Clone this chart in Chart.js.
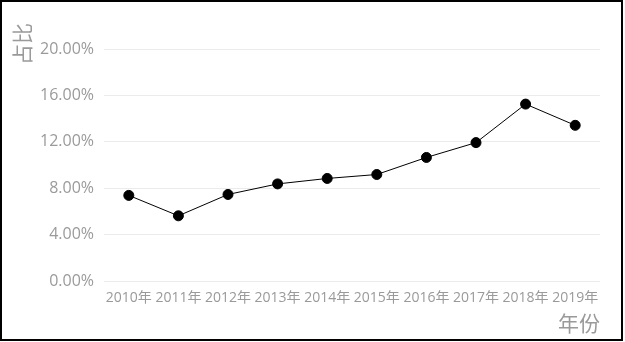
<!DOCTYPE html>
<html>
<head>
<meta charset="utf-8">
<script src="https://cdn.jsdelivr.net/npm/chart.js@4.4.1/dist/chart.umd.min.js"></script>
<style>
  body { margin: 0; background: #fff; }
  .box { position: absolute; left: 0; top: 0; width: 623px; height: 341px; box-sizing: border-box; border: 2px solid #000; background: #fff; }
  #my_chart { display: block; }
</style>
</head>
<body>
<div class="box"><canvas id="my_chart" width="619" height="337"></canvas></div>
<script>
// data
const years = ['2010年', '2011年', '2012年', '2013年', '2014年', '2015年', '2016年', '2017年', '2018年', '2019年'];
const shares = [7.38, 5.62, 7.46, 8.37, 8.84, 9.18, 10.65, 11.93, 15.25, 13.42];
const yTicks = [0, 4, 8, 12, 16, 20];
const yTitle = '占比';
const xTitle = '年份';

const gray = '#9a9a9a';
const fontFam = '"Open Sans", "Noto Sans CJK SC", sans-serif';
const cjkFam = '"Noto Sans CJK SC", sans-serif';

// y axis title sits above the plot top, so draw it ourselves
const yTitlePlugin = {
  id: 'yTitlePlugin',
  afterDraw(chart) {
    const c = chart.ctx;
    const area = chart.chartArea;
    c.save();
    c.translate(chart.scales.y.left + 20, area.top - 5);
    c.rotate(-Math.PI / 2);
    c.fillStyle = gray;
    c.font = '21px ' + cjkFam;
    c.textAlign = 'center';
    c.textBaseline = 'middle';
    c.fillText(yTitle, 0, 0);
    c.restore();
  }
};

var ctx = document.getElementById('my_chart').getContext('2d');
var lineChart = new Chart(ctx, {
  type: 'line',
  data: {
    labels: years,
    datasets: [{
      label: yTitle,
      data: shares,
      borderColor: '#000',
      borderWidth: 1,
      backgroundColor: '#000',
      pointBackgroundColor: '#000',
      pointBorderColor: '#000',
      pointRadius: 5,
      tension: 0
    }]
  },
  options: {
    responsive: false,
    animation: false,
    layout: { padding: { top: 47, right: 21, left: 0, bottom: 0 } },
    plugins: { legend: { display: false }, tooltip: { enabled: false } },
    scales: {
      x: {
        offset: true,
        grid: { display: false },
        border: { display: false },
        ticks: { color: gray, font: { family: fontFam, size: 14 }, padding: 1, maxRotation: 0, autoSkip: false },
        title: { display: true, text: xTitle, align: 'end', color: gray, font: { family: cjkFam, size: 21 }, padding: { top: 0, bottom: 3 } },
        afterFit: s => { s.height = 58; }
      },
      y: {
        min: yTicks[0],
        max: yTicks[yTicks.length - 1],
        afterBuildTicks: s => { s.ticks = yTicks.map(v => ({ value: v })); },
        grid: { color: '#ebebeb', drawTicks: false },
        border: { display: false },
        ticks: { color: gray, font: { family: fontFam, size: 16 }, padding: 10, callback: v => v.toFixed(2) + '%' },
        afterFit: s => { s.width = 102; }
      }
    }
  },
  plugins: [yTitlePlugin]
});
</script>
</body>
</html>
